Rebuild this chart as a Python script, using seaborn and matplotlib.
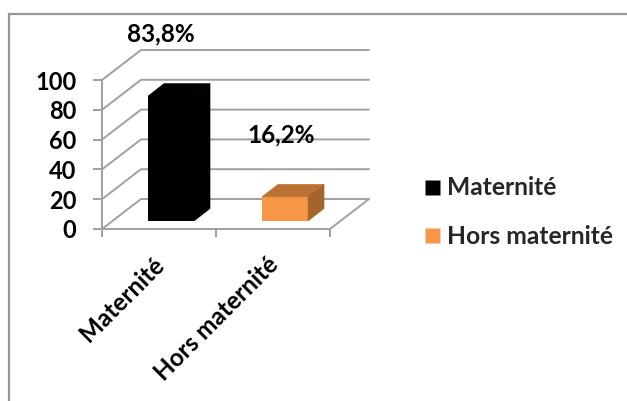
import matplotlib
matplotlib.use("Agg")
import matplotlib.pyplot as plt
from matplotlib.lines import Line2D
from matplotlib.patches import Polygon
from matplotlib.transforms import ScaledTranslation
import seaborn as sns

categories = ["Maternité", "Hors maternité"]
values = [83.8, 16.2]
value_labels = ["83,8%", "16,2%"]
yticks = [0, 20, 40, 60, 80, 100]
front_colors = ["#000000", "#F79646"]
top_colors = ["#000000", "#BA7132"]
side_colors = ["#000000", "#A3652A"]

W, H = 627, 401
GRAY = "#A0A0A0"
FONT = "Lato"

sns.set_theme(style="white")
plt.rcParams["font.family"] = [FONT, "DejaVu Sans"]

fig = plt.figure(figsize=(W / 100, H / 100), dpi=100, facecolor="white")


def px_axes(x0, y0, x1, y1, **kw):
    return fig.add_axes([x0 / W, 1 - y1 / H, (x1 - x0) / W, (y1 - y0) / H], **kw)


# outer chart frame: left and top only
frame = fig.add_axes([0, 0, 1, 1], zorder=0)
frame.set_xlim(0, W)
frame.set_ylim(H, 0)
frame.axis("off")
frame.plot([9, 9, W], [H, 14, 14], color="#969696", lw=1.6, solid_joinstyle="miter")

# wall plane
ax = px_axes(102, 80, 330, 229, zorder=1)
ax.set_xlim(-0.5, 1.5)
ax.set_ylim(0, 100)
ax.patch.set_alpha(0)
sns.despine(ax=ax, top=True, right=True, bottom=False, left=False)
for s in ("left", "bottom"):
    ax.spines[s].set_color(GRAY)
    ax.spines[s].set_linewidth(1.4)

depth_x = 39 / 114
depth_y = 30 / 1.49
for v in yticks:
    ax.plot([-0.5, -0.5 + depth_x, 1.5 + depth_x], [v, v + depth_y, v + depth_y],
            color=GRAY, lw=1.4, clip_on=False)
ax.plot([1.5, 1.5 + depth_x], [0, depth_y], color=GRAY, lw=1.4, clip_on=False)

ax.set_yticks(yticks)
ax.set_yticklabels([str(v) for v in yticks], fontsize=17, fontweight="bold", color="black")
ax.tick_params(axis="y", length=6.5, width=1.4, color=GRAY, pad=12, left=True)
ax.set_xticks([-0.5, 0.5, 1.5])
ax.set_xticklabels([])
ax.set_xticks([0, 1], minor=True)
ax.set_xticklabels(categories, minor=True, rotation=45, ha="right", va="top",
                   rotation_mode="anchor", fontsize=17.5, fontweight="bold", color="black")
ax.tick_params(axis="x", which="major", length=5.5, width=1.4, color=GRAY, bottom=True)
ax.tick_params(axis="x", which="minor", length=0, pad=0, bottom=False)
shift = ScaledTranslation(-7 / 100, -24 / 100, fig.dpi_scale_trans)
for t in ax.get_xticklabels(minor=True):
    t.set_transform(t.get_transform() + shift)

# bar plane, set back from the front of the floor
bar_ax = px_axes(114, 72, 342, 221, zorder=2)
bar_ax.patch.set_alpha(0)
sns.barplot(x=categories, y=values, hue=categories, palette=front_colors, width=0.404,
            saturation=1, legend=False, linewidth=0, ax=bar_ax)
bar_ax.set_xlim(-0.5, 1.5)
bar_ax.set_ylim(0, 100)
bar_ax.axis("off")

bw = 0.404 / 2
bar_dx = 16 / 114
bar_dy = 12.5 / 1.49
for i, v in enumerate(values):
    l, r = i - bw, i + bw
    bar_ax.add_patch(Polygon([(l, v), (r, v), (r + bar_dx, v + bar_dy), (l + bar_dx, v + bar_dy)],
                             closed=True, fc=top_colors[i], ec=top_colors[i], lw=0.4,
                             clip_on=False, zorder=3))
    bar_ax.add_patch(Polygon([(r, 0), (r + bar_dx, bar_dy), (r + bar_dx, v + bar_dy), (r, v)],
                             closed=True, fc=side_colors[i], ec=side_colors[i], lw=0.4,
                             clip_on=False, zorder=3))
    bar_ax.annotate(value_labels[i], xy=(i, v),
                    xytext=((-10 if i == 0 else -4) * 0.72, 62 * 0.72),
                    textcoords="offset points", ha="center", va="center",
                    fontsize=17.5, fontweight="bold", color="black")

handles = [Line2D([], [], linestyle="none", marker="s", markersize=10.8,
                  markerfacecolor=c, markeredgecolor="none") for c in front_colors]
fig.legend(handles, categories, loc="center left", bbox_to_anchor=(421 / W, 1 - 212 / H),
           frameon=False, handlelength=0.9, handletextpad=0.14,
           labelspacing=1.03, borderpad=0, borderaxespad=0,
           prop={"family": FONT, "weight": "bold", "size": 17.7})

fig.savefig("out.png", dpi=100, facecolor="white")
